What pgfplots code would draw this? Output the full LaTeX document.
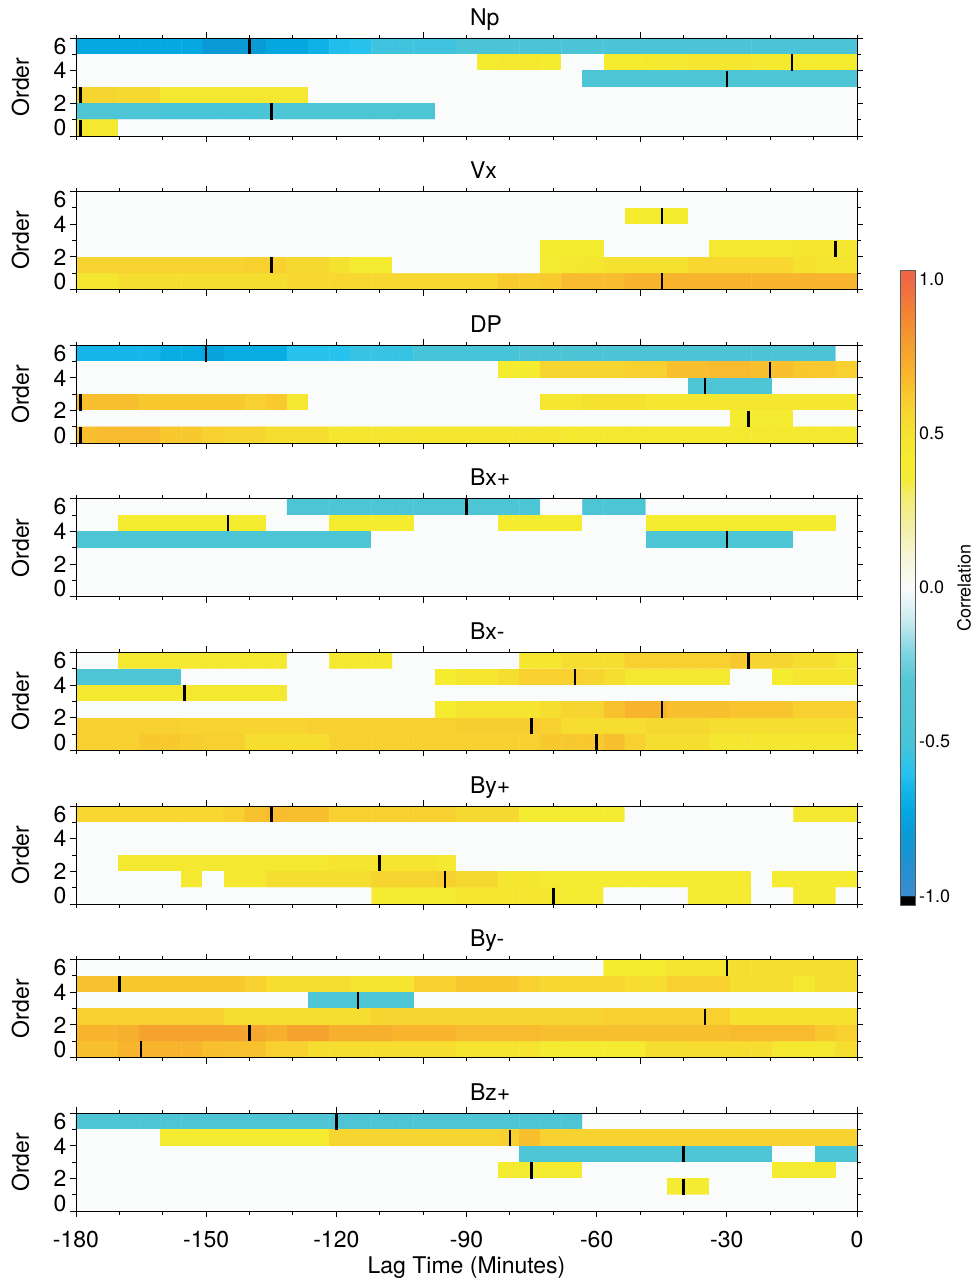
\documentclass[border=0pt]{standalone}
\usepackage{fontspec}
\setmainfont{TeX Gyre Heros}
\usepackage{pgfplots}
\pgfplotsset{compat=1.18}
\newcommand{\fs}{\fontsize{23}{27}\selectfont}
\newcommand{\cbfs}{\fontsize{18}{22}\selectfont}

% correlation colormap, positions = (r+1.03)*100pt
\pgfplotsset{
  colormap={corr}{
    rgb255(0pt)=(0,0,0); rgb255(2.9pt)=(0,0,0);
    rgb255(3pt)=(60,140,208);
    rgb255(13pt)=(35,144,210);
    rgb255(23pt)=(10,154,214);
    rgb255(31pt)=(5,168,225);
    rgb255(38pt)=(22,182,234);
    rgb255(43pt)=(40,194,238);
    rgb255(48pt)=(58,195,226);
    rgb255(53pt)=(72,196,216);
    rgb255(63pt)=(80,197,211);
    rgb255(73pt)=(84,199,213);
    rgb255(83pt)=(135,215,228);
    rgb255(93pt)=(205,236,241);
    rgb255(103pt)=(250,251,251);
    rgb255(113pt)=(246,245,215);
    rgb255(123pt)=(243,239,165);
    rgb255(133pt)=(243,236,110);
    rgb255(138pt)=(244,236,55);
    rgb255(145pt)=(245,236,48);
    rgb255(153pt)=(245,226,48);
    rgb255(163pt)=(248,208,48);
    rgb255(173pt)=(248,180,45);
    rgb255(183pt)=(245,155,48);
    rgb255(193pt)=(243,128,52);
    rgb255(203pt)=(238,104,70);
    rgb255(206pt)=(238,104,70)
  },
  table/hmtab/.style={row sep=\\, header=false, meta index=0,
    x expr={-180+(mod(\coordindex,37)+0.5)*180/37},
    y expr={5.5-floor((\coordindex+0.5)/37)}},
  hmcell/.style={matrix plot*, mesh/cols=37, point meta=explicit},
  mk/.style={only marks, mark=|, mark size=8.17pt, mark options={line width=2.5pt, black}},
  panel/.style={
    scale only axis, width=781pt, height=98pt, anchor=north west,
    xmin=-180, xmax=0, ymin=0, ymax=6, axis on top,
    colormap name=corr, point meta min=-1.03, point meta max=1.03,
    tick align=outside, major tick length=6pt, minor tick length=3.5pt,
    axis line style={line width=0.9pt},
    every tick/.style={black, line width=0.9pt},
    xtick={-150,-100,-50}, xticklabels={}, minor xtick={-180,-170,...,0},
    ytick={0,2,4,6}, yticklabels={{},2,4,{}}, minor ytick={1,3,5},
    extra y ticks={0.5,5.5}, extra y tick labels={0,6},
    extra y tick style={tick style={draw=none}},
    tick label style={font=\fs},
    /pgf/number format/assume math mode=true,
    ylabel={Order}, ylabel style={at={(-0.071,0.5)}, anchor=center, font=\fs},
    title style={at={(0.5,1)}, anchor=base west, yshift=7pt, font=\fs},
  },
}

\begin{document}
\begin{tikzpicture}
\path[use as bounding box] (0pt,0pt) rectangle (977pt,-1283pt);

% colour bar (drawn first)
\begin{axis}[at={(892pt,-270pt)}, anchor=north west,
  hide axis, scale only axis, width=0pt, height=0pt,
  colormap name=corr, point meta min=-1.03, point meta max=1.03,
  colorbar,
  colorbar style={at={(parent axis.north west)}, anchor=north west, xshift=0pt,
    scale only axis, width=15pt, height=635pt,
    ytick={-1,-0.5,0,0.5,1}, major tick length=0pt,
    yticklabel style={font=\cbfs, /pgf/number format/.cd, fixed, fixed zerofill, precision=1, assume math mode=true},
    axis line style={draw=black!65, line width=0.8pt}}]
\addplot[draw=none, mesh/check=false] coordinates {(0,0)};
\end{axis}
\node[rotate=90, font=\cbfs] at (964pt,-588pt) {Correlation};

% Np
\begin{axis}[panel, at={(76pt,-38pt)}, title={Np}]
\addplot[hmcell] table[hmtab] {
-0.72\\-0.72\\-0.72\\-0.72\\-0.72\\-0.72\\ -0.8\\-0.8\\-0.8\\ -0.73\\-0.73\\ -0.68\\-0.62\\-0.6\\ -0.53\\-0.53\\-0.53\\-0.53\\ -0.47\\-0.47\\-0.47\\-0.47\\-0.47\\ -0.47\\-0.47\\-0.47\\-0.47\\-0.47\\ -0.47\\-0.47\\-0.47\\-0.47\\-0.47\\ -0.47\\-0.47\\-0.47\\-0.47\\
0\\0\\0\\0\\0\\ 0\\0\\0\\0\\0\\ 0\\0\\0\\0\\0\\ 0\\0\\0\\0\\ 0.42\\0.44\\0.44\\0.42\\ 0\\0\\ 0.42\\0.42\\0.44\\0.45\\0.46\\0.46\\0.46\\0.45\\0.44\\0.43\\0.42\\0.42\\
0\\0\\0\\0\\0\\ 0\\0\\0\\0\\0\\ 0\\0\\0\\0\\0\\ 0\\0\\0\\0\\0\\ 0\\0\\0\\0\\ -0.42\\-0.42\\-0.42\\-0.42\\-0.42\\ -0.42\\-0.42\\-0.42\\-0.42\\-0.42\\ -0.42\\-0.42\\-0.42\\
0.57\\0.57\\0.55\\0.55\\ 0.45\\0.45\\0.45\\0.45\\0.45\\0.45\\0.45\\ 0\\0\\0\\0\\0\\ 0\\0\\0\\0\\0\\ 0\\0\\0\\0\\0\\ 0\\0\\0\\0\\0\\ 0\\0\\0\\0\\0\\ 0\\
-0.44\\-0.44\\-0.44\\-0.44\\ -0.48\\-0.48\\-0.48\\-0.48\\-0.48\\ -0.43\\-0.43\\-0.43\\-0.43\\-0.43\\-0.43\\-0.43\\-0.43\\ 0\\0\\0\\0\\0\\ 0\\0\\0\\0\\0\\ 0\\0\\0\\0\\0\\ 0\\0\\0\\0\\0\\
0.44\\0.44\\ 0\\0\\0\\0\\0\\ 0\\0\\0\\0\\0\\ 0\\0\\0\\0\\0\\ 0\\0\\0\\0\\0\\ 0\\0\\0\\0\\0\\ 0\\0\\0\\0\\0\\ 0\\0\\0\\0\\0\\
};
\addplot[mk] coordinates {(-140,5.5) (-15,4.5) (-30,3.5) (-179,2.5) (-135,1.5) (-179,0.5)};
\end{axis}

% Vx
\begin{axis}[panel, at={(76pt,-191.6pt)}, title={Vx}]
\addplot[hmcell] table[hmtab] {
0\\0\\0\\0\\0\\ 0\\0\\0\\0\\0\\ 0\\0\\0\\0\\0\\ 0\\0\\0\\0\\0\\ 0\\0\\0\\0\\0\\ 0\\0\\0\\0\\0\\ 0\\0\\0\\0\\0\\ 0\\0\\
0\\0\\0\\0\\0\\ 0\\0\\0\\0\\0\\ 0\\0\\0\\0\\0\\ 0\\0\\0\\0\\0\\ 0\\0\\0\\0\\0\\ 0\\ 0.42\\0.42\\0.42\\ 0\\0\\0\\0\\0\\ 0\\0\\0\\
0\\0\\0\\0\\0\\ 0\\0\\0\\0\\0\\ 0\\0\\0\\0\\0\\ 0\\0\\0\\0\\0\\ 0\\0\\0\\0\\0\\ 0\\0\\0\\0\\0\\ 0\\0\\0\\0\\0\\ 0\\0\\
0\\0\\0\\0\\0\\ 0\\0\\0\\0\\0\\ 0\\0\\0\\0\\0\\ 0\\0\\0\\0\\0\\ 0\\0\\ 0.42\\0.42\\0.42\\ 0\\0\\0\\0\\0\\ 0.44\\0.44\\0.44\\0.44\\ 0.47\\0.47\\0.47\\
0.58\\0.58\\0.58\\0.58\\0.58\\0.58\\0.58\\0.58\\ 0.6\\0.6\\ 0.55\\0.55\\ 0.5\\ 0.43\\0.43\\ 0\\0\\0\\0\\0\\0\\0\\ 0.43\\0.45\\0.46\\ 0.5\\0.5\\0.5\\0.5\\ 0.56\\0.56\\0.56\\0.56\\0.56\\ 0.5\\0.48\\0.48\\
0.46\\0.46\\ 0.52\\0.52\\0.52\\0.52\\0.52\\0.52\\0.52\\0.52\\ 0.56\\0.56\\0.56\\0.56\\0.56\\0.56\\0.56\\0.56\\0.56\\0.56\\ 0.62\\0.61\\0.62\\ 0.67\\0.67\\0.67\\ 0.7\\0.7\\0.7\\0.7\\0.7\\0.7\\0.7\\0.7\\0.7\\0.7\\0.7\\
};
\addplot[mk] coordinates {(-45,4.5) (-5,2.5) (-135,1.5) (-45,0.5)};
\end{axis}

% DP
\begin{axis}[panel, at={(76pt,-345.2pt)}, title={DP}]
\addplot[hmcell] table[hmtab] {
-0.65\\-0.65\\-0.65\\-0.65\\ -0.7\\-0.7\\ -0.75\\ -0.7\\-0.7\\-0.7\\ -0.6\\-0.6\\-0.6\\ -0.56\\-0.56\\-0.56\\ -0.5\\-0.5\\-0.5\\-0.5\\-0.5\\ -0.45\\-0.45\\-0.45\\-0.45\\-0.45\\ -0.45\\-0.45\\-0.45\\-0.45\\-0.45\\ -0.45\\-0.45\\-0.45\\-0.45\\-0.45\\ 0\\
0\\0\\0\\0\\0\\ 0\\0\\0\\0\\0\\ 0\\0\\0\\0\\0\\ 0\\0\\0\\0\\0\\ 0.42\\0.42\\ 0.57\\0.57\\0.57\\0.57\\ 0.6\\0.6\\ 0.66\\0.66\\ 0.68\\0.68\\ 0.66\\0.66\\ 0.63\\0.62\\0.6\\
0\\0\\0\\0\\0\\ 0\\0\\0\\0\\0\\ 0\\0\\0\\0\\0\\ 0\\0\\0\\0\\0\\ 0\\0\\0\\0\\0\\ 0\\0\\0\\0\\ -0.42\\-0.42\\-0.42\\-0.42\\ 0\\0\\0\\0\\
0.66\\0.66\\0.66\\ 0.63\\0.63\\0.63\\0.63\\0.63\\ 0.6\\0.62\\0.45\\ 0\\0\\0\\0\\0\\ 0\\0\\0\\0\\0\\ 0\\ 0.47\\0.47\\ 0.5\\0.5\\0.5\\ 0.47\\0.47\\0.47\\0.47\\0.47\\ 0.47\\0.47\\0.47\\0.47\\0.47\\
0\\0\\0\\0\\0\\ 0\\0\\0\\0\\0\\ 0\\0\\0\\0\\0\\ 0\\0\\0\\0\\0\\ 0\\0\\0\\0\\0\\ 0\\0\\0\\0\\0\\ 0\\ 0.43\\0.43\\0.43\\ 0\\0\\0\\
0.66\\ 0.68\\0.68\\0.68\\ 0.63\\0.63\\ 0.6\\ 0.57\\0.57\\ 0.52\\0.52\\0.52\\ 0.47\\0.47\\0.47\\0.47\\0.47\\ 0.47\\0.47\\0.47\\0.47\\0.47\\ 0.47\\ 0.44\\0.44\\0.44\\0.44\\0.44\\ 0.44\\0.44\\0.44\\0.44\\0.44\\ 0.44\\0.44\\0.44\\0.44\\
};
\addplot[mk] coordinates {(-150,5.5) (-20,4.5) (-35,3.5) (-179,2.5) (-25,1.5) (-179,0.5)};
\end{axis}

% Bx+
\begin{axis}[panel, at={(76pt,-498.8pt)}, title={Bx+}]
\addplot[hmcell] table[hmtab] {
0\\0\\0\\0\\0\\ 0\\0\\0\\0\\0\\ -0.42\\-0.42\\-0.42\\-0.42\\-0.42\\ -0.42\\-0.42\\-0.42\\-0.42\\-0.42\\ -0.42\\-0.42\\ 0\\0\\ -0.42\\-0.42\\-0.42\\ 0\\0\\0\\0\\0\\ 0\\0\\0\\0\\0\\
0\\0\\ 0.42\\0.42\\0.42\\0.42\\0.42\\0.42\\0.42\\ 0\\0\\0\\ 0.42\\0.42\\0.42\\0.42\\ 0\\0\\0\\0\\ 0.42\\0.42\\0.42\\0.42\\ 0\\0\\0\\ 0.42\\0.42\\0.42\\0.42\\0.42\\ 0.42\\0.42\\0.42\\0.42\\ 0\\
-0.42\\-0.42\\-0.42\\-0.42\\-0.42\\ -0.42\\-0.42\\-0.42\\-0.42\\-0.42\\ -0.42\\-0.42\\-0.42\\-0.42\\ 0\\0\\0\\0\\0\\ 0\\0\\0\\0\\0\\ 0\\0\\0\\ -0.42\\-0.42\\-0.42\\-0.42\\-0.42\\ -0.42\\-0.42\\ 0\\0\\0\\
0\\0\\0\\0\\0\\ 0\\0\\0\\0\\0\\ 0\\0\\0\\0\\0\\ 0\\0\\0\\0\\0\\ 0\\0\\0\\0\\0\\ 0\\0\\0\\0\\0\\ 0\\0\\0\\0\\0\\ 0\\0\\
0\\0\\0\\0\\0\\ 0\\0\\0\\0\\0\\ 0\\0\\0\\0\\0\\ 0\\0\\0\\0\\0\\ 0\\0\\0\\0\\0\\ 0\\0\\0\\0\\0\\ 0\\0\\0\\0\\0\\ 0\\0\\
0\\0\\0\\0\\0\\ 0\\0\\0\\0\\0\\ 0\\0\\0\\0\\0\\ 0\\0\\0\\0\\0\\ 0\\0\\0\\0\\0\\ 0\\0\\0\\0\\0\\ 0\\0\\0\\0\\0\\ 0\\0\\
};
\addplot[mk] coordinates {(-90,5.5) (-145,4.5) (-30,3.5)};
\end{axis}

% Bx-
\begin{axis}[panel, at={(76pt,-652.4pt)}, title={Bx-}]
\addplot[hmcell] table[hmtab] {
0\\0\\ 0.45\\0.45\\0.45\\0.45\\0.45\\0.45\\0.45\\0.45\\ 0\\0\\ 0.45\\0.45\\0.45\\ 0\\0\\0\\0\\0\\0\\ 0.47\\0.47\\ 0.52\\0.52\\0.52\\ 0.6\\0.6\\0.6\\0.6\\0.6\\ 0.63\\ 0.57\\0.57\\ 0.52\\0.52\\ 0.45\\
-0.42\\-0.42\\-0.42\\-0.42\\-0.42\\ 0\\0\\0\\0\\0\\ 0\\0\\0\\0\\0\\ 0\\0\\ 0.42\\ 0.47\\0.47\\ 0.52\\ 0.6\\0.6\\0.6\\ 0.57\\ 0.52\\ 0.45\\0.45\\0.45\\0.45\\0.45\\ 0\\0\\ 0.42\\ 0.46\\0.46\\0.46\\
0.45\\0.45\\0.45\\0.45\\0.45\\ 0.45\\0.45\\0.45\\0.45\\0.45\\ 0\\0\\0\\0\\0\\ 0\\0\\0\\0\\0\\ 0\\0\\0\\0\\0\\ 0\\0\\0\\0\\0\\ 0\\0\\0\\0\\0\\ 0\\0\\
0\\0\\0\\0\\0\\ 0\\0\\0\\0\\0\\ 0\\0\\0\\0\\0\\ 0\\0\\ 0.42\\ 0.48\\0.48\\0.48\\0.48\\ 0.52\\ 0.57\\0.57\\ 0.65\\ 0.7\\0.7\\ 0.66\\0.66\\0.66\\ 0.64\\0.64\\0.64\\ 0.6\\0.6\\0.6\\
0.6\\0.6\\0.6\\0.6\\0.6\\ 0.58\\0.58\\0.58\\0.58\\0.58\\0.58\\ 0.6\\0.6\\0.6\\0.6\\0.6\\0.6\\0.6\\ 0.61\\0.61\\0.61\\0.61\\ 0.6\\ 0.53\\0.53\\0.53\\0.53\\ 0.55\\0.55\\0.55\\ 0.52\\0.52\\0.52\\0.52\\0.52\\0.52\\0.52\\
0.6\\0.6\\0.6\\ 0.63\\0.63\\ 0.61\\ 0.6\\0.6\\ 0.53\\0.53\\0.53\\0.53\\ 0.6\\0.6\\0.6\\0.6\\0.6\\ 0.6\\0.6\\0.6\\0.6\\0.6\\ 0.63\\0.63\\0.63\\ 0.66\\ 0.6\\ 0.52\\0.52\\0.52\\ 0.47\\0.47\\0.47\\0.47\\0.47\\0.47\\0.47\\
};
\addplot[mk] coordinates {(-25,5.5) (-65,4.5) (-155,3.5) (-45,2.5) (-75,1.5) (-60,0.5)};
\end{axis}

% By+
\begin{axis}[panel, at={(76pt,-806pt)}, title={By+}]
\addplot[hmcell] table[hmtab] {
0.56\\0.56\\0.56\\0.56\\0.56\\0.56\\0.56\\ 0.6\\0.65\\0.67\\ 0.66\\0.66\\ 0.6\\0.6\\0.6\\0.6\\0.6\\0.6\\ 0.55\\0.55\\0.55\\ 0.43\\0.43\\0.43\\0.43\\0.43\\ 0\\0\\0\\0\\0\\0\\0\\0\\ 0.45\\0.45\\0.45\\
0\\0\\0\\0\\0\\ 0\\0\\0\\0\\0\\ 0\\0\\0\\0\\0\\ 0\\0\\0\\0\\0\\ 0\\0\\0\\0\\0\\ 0\\0\\0\\0\\0\\ 0\\0\\0\\0\\0\\ 0\\0\\
0\\0\\0\\0\\0\\ 0\\0\\0\\0\\0\\ 0\\0\\0\\0\\0\\ 0\\0\\0\\0\\0\\ 0\\0\\0\\0\\0\\ 0\\0\\0\\0\\0\\ 0\\0\\0\\0\\0\\ 0\\0\\
0\\0\\ 0.45\\0.45\\0.45\\0.45\\0.45\\ 0.45\\0.45\\0.45\\0.45\\0.45\\ 0.48\\0.48\\0.48\\0.48\\0.48\\ 0.45\\ 0\\0\\0\\0\\0\\ 0\\0\\0\\0\\0\\ 0\\0\\0\\0\\0\\ 0\\0\\0\\0\\
0\\0\\0\\0\\0\\ 0.45\\ 0\\ 0.45\\0.45\\ 0.52\\0.52\\0.52\\0.52\\0.52\\ 0.57\\0.57\\0.57\\ 0.6\\ 0.55\\0.55\\ 0.47\\0.47\\ 0.43\\0.43\\0.43\\0.43\\0.43\\ 0.43\\0.43\\0.43\\0.43\\0.43\\ 0\\ 0.43\\0.43\\0.43\\0.43\\
0\\0\\0\\0\\0\\ 0\\0\\0\\0\\0\\ 0\\0\\0\\0\\ 0.43\\0.43\\0.43\\0.43\\ 0.47\\0.47\\0.47\\0.47\\0.47\\ 0.43\\0.43\\ 0\\0\\0\\0\\ 0.43\\0.43\\0.43\\ 0\\0\\ 0.43\\0.43\\ 0\\
};
\addplot[mk] coordinates {(-135,5.5) (-110,2.5) (-95,1.5) (-70,0.5)};
\end{axis}

% By-
\begin{axis}[panel, at={(76pt,-959.6pt)}, title={By-}]
\addplot[hmcell] table[hmtab] {
0\\0\\0\\0\\0\\ 0\\0\\0\\0\\0\\ 0\\0\\0\\0\\0\\ 0\\0\\0\\0\\0\\ 0\\0\\0\\0\\0\\ 0.42\\0.42\\0.42\\ 0.48\\0.48\\0.48\\ 0.52\\0.52\\0.52\\0.52\\0.52\\0.52\\
0.65\\0.65\\ 0.63\\0.63\\0.63\\0.63\\0.63\\0.63\\ 0.6\\ 0.53\\0.53\\0.53\\0.53\\ 0.48\\0.48\\0.48\\ 0.6\\0.6\\ 0.63\\0.63\\0.63\\ 0.6\\ 0.56\\0.56\\0.56\\0.56\\ 0.53\\0.53\\ 0.6\\0.6\\0.6\\ 0.52\\0.52\\0.52\\ 0.45\\ 0.52\\0.52\\
0\\0\\0\\0\\0\\ 0\\0\\0\\0\\0\\ 0\\ -0.42\\-0.42\\-0.42\\-0.42\\-0.42\\ 0\\0\\0\\0\\0\\ 0\\0\\0\\0\\0\\ 0\\0\\0\\0\\0\\ 0\\0\\0\\0\\0\\ 0\\
0.6\\0.6\\0.6\\0.6\\0.6\\0.6\\0.6\\ 0.53\\0.53\\0.53\\0.53\\0.53\\0.53\\0.53\\ 0.57\\0.57\\0.57\\0.57\\0.57\\ 0.57\\0.57\\0.57\\0.57\\0.57\\0.57\\ 0.6\\0.6\\0.6\\0.6\\0.6\\0.6\\ 0.5\\0.5\\0.5\\0.5\\0.5\\0.5\\
0.7\\0.7\\ 0.72\\ 0.77\\0.77\\0.77\\0.77\\0.77\\ 0.75\\ 0.72\\ 0.77\\0.77\\ 0.72\\0.72\\0.72\\ 0.7\\0.7\\0.7\\ 0.68\\0.68\\0.68\\0.68\\ 0.66\\0.66\\0.66\\0.66\\0.66\\ 0.66\\0.66\\0.66\\0.66\\ 0.68\\0.68\\0.68\\0.68\\ 0.63\\ 0.6\\
0.66\\0.66\\ 0.7\\0.7\\0.7\\0.7\\ 0.66\\ 0.65\\0.65\\ 0.6\\0.6\\ 0.53\\0.53\\0.53\\0.53\\0.53\\0.53\\0.53\\ 0.48\\0.48\\0.48\\0.48\\ 0.43\\0.43\\0.43\\0.43\\0.43\\ 0.52\\0.52\\ 0.53\\0.53\\0.53\\0.53\\ 0.45\\0.45\\0.45\\ 0.52\\
};
\addplot[mk] coordinates {(-30,5.5) (-170,4.5) (-115,3.5) (-35,2.5) (-140,1.5) (-165,0.5)};
\end{axis}

% Bz+
\begin{axis}[panel, at={(76pt,-1113.2pt)}, title={Bz+},
  xtick={-180,-150,...,0}, xticklabel style={yshift=-10pt},
  xticklabels={-180,-150,-120,-90,-60,-30,0},
  xlabel={Lag Time (Minutes)}, xlabel style={at={(0.5,-0.64)}, anchor=base, font=\fs}]
\addplot[hmcell] table[hmtab] {
-0.42\\-0.42\\-0.42\\-0.42\\-0.42\\ -0.42\\-0.42\\-0.42\\-0.42\\-0.42\\ -0.42\\-0.42\\-0.42\\-0.42\\-0.42\\ -0.42\\-0.42\\-0.42\\-0.42\\-0.42\\ -0.42\\-0.42\\-0.42\\-0.42\\ 0\\0\\0\\0\\0\\ 0\\0\\0\\0\\0\\ 0\\0\\0\\
0\\0\\0\\0\\ 0.43\\0.43\\0.43\\0.43\\0.43\\0.43\\0.43\\0.43\\ 0.57\\0.57\\0.57\\0.57\\0.57\\0.57\\0.57\\0.57\\ 0.6\\0.66\\0.6\\ 0.59\\0.59\\0.59\\0.59\\0.59\\ 0.59\\0.59\\0.59\\0.59\\0.59\\ 0.59\\0.59\\0.59\\0.59\\
0\\0\\0\\0\\0\\ 0\\0\\0\\0\\0\\ 0\\0\\0\\0\\0\\ 0\\0\\0\\0\\0\\ 0\\ -0.42\\-0.42\\-0.42\\-0.42\\-0.42\\ -0.42\\-0.42\\-0.42\\-0.42\\-0.42\\ -0.42\\-0.42\\ 0\\0\\ -0.42\\-0.42\\
0\\0\\0\\0\\0\\ 0\\0\\0\\0\\0\\ 0\\0\\0\\0\\0\\ 0\\0\\0\\0\\0\\ 0.43\\0.43\\0.43\\0.43\\ 0\\0\\0\\0\\0\\ 0\\0\\0\\0\\ 0.43\\0.43\\0.43\\ 0\\
0\\0\\0\\0\\0\\ 0\\0\\0\\0\\0\\ 0\\0\\0\\0\\0\\ 0\\0\\0\\0\\0\\ 0\\0\\0\\0\\0\\ 0\\0\\0\\ 0.43\\0.43\\ 0\\0\\0\\0\\0\\ 0\\0\\
0\\0\\0\\0\\0\\ 0\\0\\0\\0\\0\\ 0\\0\\0\\0\\0\\ 0\\0\\0\\0\\0\\ 0\\0\\0\\0\\0\\ 0\\0\\0\\0\\0\\ 0\\0\\0\\0\\0\\ 0\\0\\
};
\addplot[mk] coordinates {(-120,5.5) (-80,4.5) (-40,3.5) (-75,2.5) (-40,1.5)};
\end{axis}
\end{tikzpicture}
\end{document}
